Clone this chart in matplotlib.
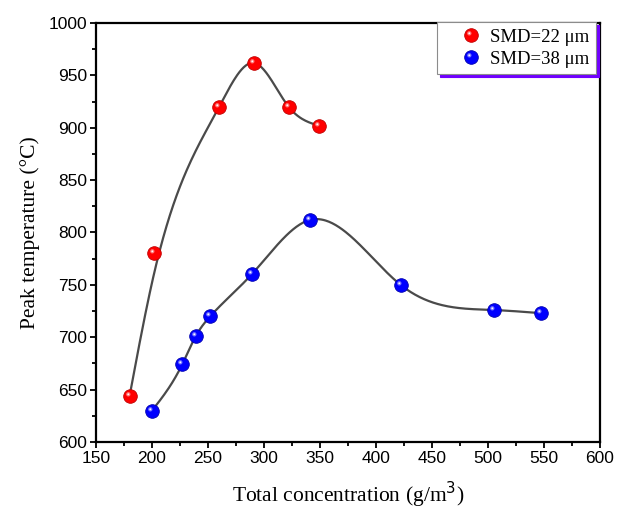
import numpy as np
import matplotlib
matplotlib.use('Agg')
import matplotlib.pyplot as plt
from matplotlib.path import Path
from matplotlib.lines import Line2D
from matplotlib.legend_handler import HandlerTuple
from matplotlib.ticker import MultipleLocator

# Peak temperature vs total concentration
smd22_conc = [180, 202, 260, 291, 322, 349]
smd22_temp = [644, 780, 920, 962, 920, 902]
smd22_weight = [1, 0.0018, 1, 1, 1, 1]

smd38_conc = [200, 227, 239, 252, 289, 341, 422, 505, 547]
smd38_temp = [630, 674, 701, 720, 760, 812, 750, 726, 723]
smd38_weight = [1, 1, 1, 1, 1, 1, 1, 1, 1]

labels = ['SMD=22 \u03bcm', 'SMD=38 \u03bcm']


def smooth_curve(x, y, weight, lam=5.0):
    # weighted smoothing spline on a 1-unit grid (second-difference penalty)
    x = np.asarray(x)
    grid = np.arange(x[0], x[-1] + 1)
    n = len(grid)
    idx = np.searchsorted(grid, x)
    w = np.zeros(n)
    w[idx] = weight
    z = np.zeros(n)
    z[idx] = y
    D = np.diff(np.eye(n), 2, axis=0)
    f = np.linalg.solve(np.diag(w) + lam * D.T @ D, w * z)
    return grid, f


# glossy sphere: base disc plus off-centre highlights
MS = 9.8
glow = Path.circle(center=(-0.32, 0.32), radius=0.32)
spot = Path.circle(center=(-0.32, 0.32), radius=0.14)


def sphere_layers(color, edge, light):
    return [
        dict(marker='o', markersize=MS, markerfacecolor=color,
             markeredgecolor=edge, markeredgewidth=0.6),
        dict(marker=glow, markersize=MS * 0.64, markerfacecolor=light,
             markeredgewidth=0, alpha=0.75),
        dict(marker=spot, markersize=MS * 0.46, markerfacecolor='white',
             markeredgewidth=0, alpha=0.95),
    ]


red_layers = sphere_layers('#ff0000', '#c00000', '#ff9a9a')
blue_layers = sphere_layers('#0000ff', '#0000b0', '#9a9aff')

fig = plt.figure(figsize=(6.18, 5.11), dpi=100)
ax = fig.add_axes([96 / 618, 1 - 442 / 511, 504 / 618, 419 / 511])

line_kw = dict(color='#4a4a4a', lw=1.6, zorder=2)
ax.plot(*smooth_curve(smd22_conc, smd22_temp, smd22_weight), **line_kw)
ax.plot(*smooth_curve(smd38_conc, smd38_temp, smd38_weight), **line_kw)

for kw in red_layers:
    ax.plot(smd22_conc, smd22_temp, ls='none', zorder=3, **kw)
for kw in blue_layers:
    ax.plot(smd38_conc, smd38_temp, ls='none', zorder=3, **kw)

ax.set_xlim(150, 600)
ax.set_ylim(600, 1000)
ax.xaxis.set_major_locator(MultipleLocator(50))
ax.xaxis.set_minor_locator(MultipleLocator(25))
ax.yaxis.set_major_locator(MultipleLocator(50))
ax.yaxis.set_minor_locator(MultipleLocator(25))
ax.tick_params(which='both', direction='out', width=1.3, top=False, right=False)
ax.tick_params(which='major', length=4.5, labelsize=12.5, pad=2)
ax.tick_params(which='minor', length=2.8)
for lab in ax.get_xticklabels() + ax.get_yticklabels():
    lab.set_fontfamily('Liberation Sans')
for s in ax.spines.values():
    s.set_linewidth(1.6)

ax.set_xlabel('Total concentration (g/m$^3$)', family='Liberation Serif',
              fontsize=15.5, labelpad=10)
ax.set_ylabel('Peak temperature (\u00b0C)', family='Liberation Serif',
              fontsize=15.5, labelpad=6)

handles = [tuple(Line2D([], [], ls='none', **kw) for kw in red_layers),
           tuple(Line2D([], [], ls='none', **kw) for kw in blue_layers)]
leg = ax.legend(handles, labels, handler_map={tuple: HandlerTuple(ndivide=1)},
                loc='upper right', bbox_to_anchor=(596 / 618, 1 - 22 / 511),
                bbox_transform=fig.transFigure, borderaxespad=0,
                fancybox=False, edgecolor='#8c8c8c', framealpha=1,
                shadow={'color': '#7000ff', 'alpha': 1},
                prop={'family': 'Liberation Serif', 'size': 13.5},
                handlelength=2.9, handletextpad=-0.4, labelspacing=0.25,
                borderpad=0.35)
leg.get_frame().set_linewidth(0.8)

fig.savefig('out.png', dpi=100)
